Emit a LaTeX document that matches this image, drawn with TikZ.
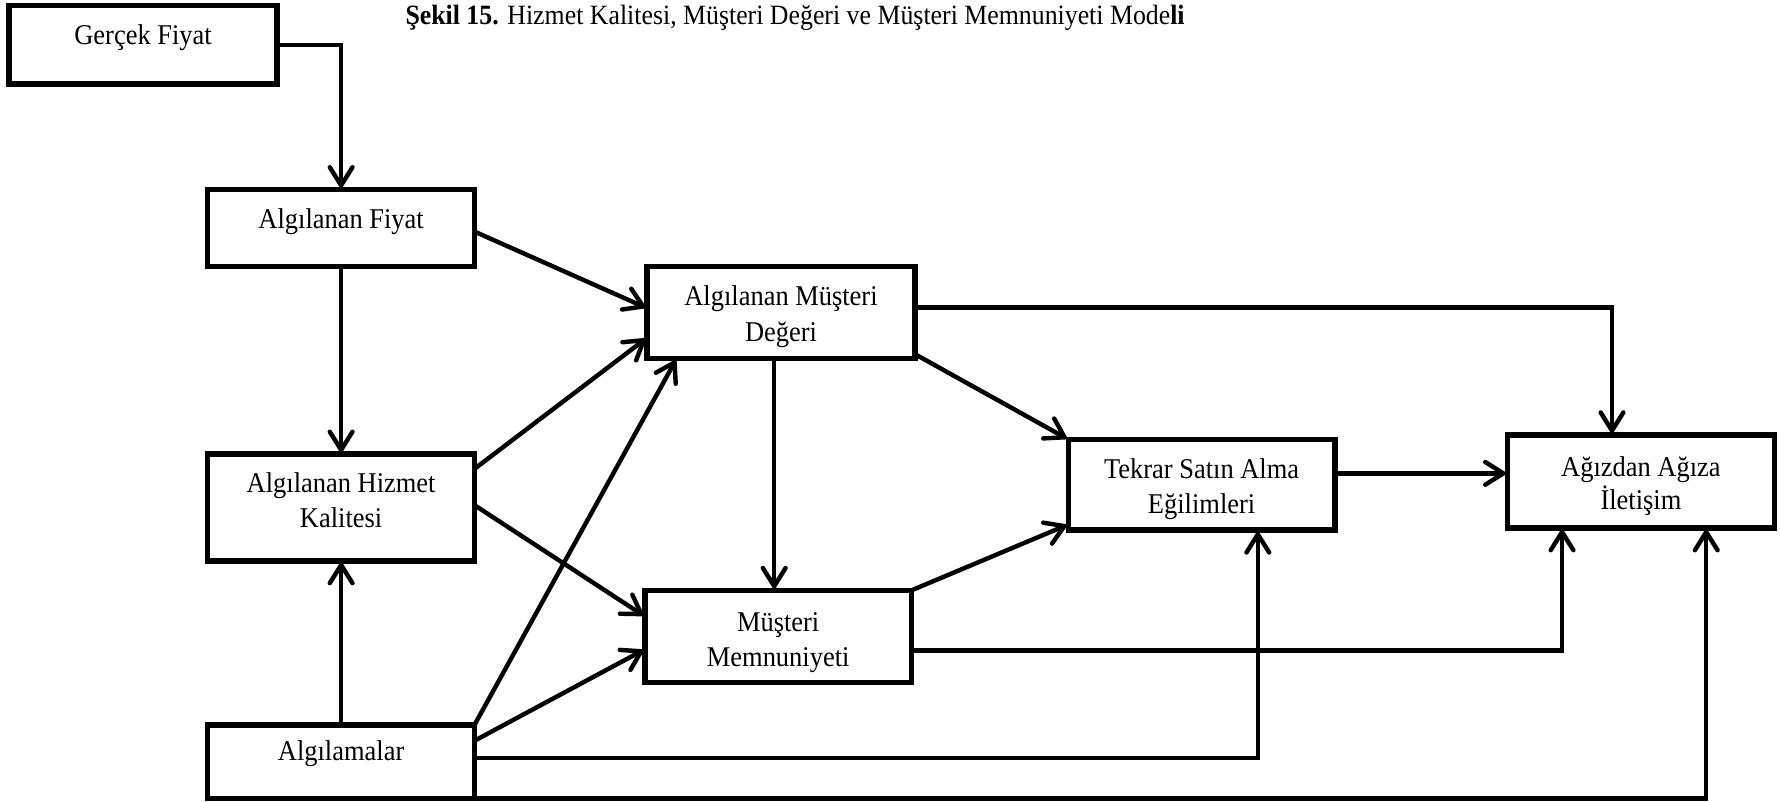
\documentclass[tikz,border=0pt]{standalone}
\usepackage{fontspec}
\setmainfont[FakeStretch=0.925]{Liberation Serif}
\usetikzlibrary{arrows.meta,calc}

\tikzset{
  box/.style={draw, line width=4.8pt, rectangle, inner sep=0pt, outer sep=0pt},
  txt/.style={inner sep=0pt, anchor=base, font=\fontsize{25.2}{31}\selectfont},
  arr/.style={line width=3.9pt, line join=miter,
              -{Straight Barb[length=16pt,width=20pt,line cap=round]}}
}

\begin{document}
\begin{tikzpicture}[x=1pt, y=-1pt]
\useasboundingbox (0,0) rectangle (1568,706);

% title
\node[txt, anchor=base west, font=\fontsize{24.6}{31}\selectfont] (title) at (357,22)
  {\textbf{Şekil 15.} Hizmet Kalitesi, Müşteri Değeri ve Müşteri Memnuniyeti Mode\textbf{li}};

% boxes
\node[box, minimum width=236pt, minimum height=69pt] (gf)  at (126,39.5) {};
\node[box, minimum width=235pt, minimum height=68pt] (af)  at (300.5,201) {};
\node[box, minimum width=235pt, minimum height=94pt] (ahk) at (300.5,447) {};
\node[box, minimum width=235pt, minimum height=65pt] (alg) at (300.5,671) {};
\node[box, minimum width=236pt, minimum height=81pt] (amd) at (688,275.5) {};
\node[box, minimum width=235pt, minimum height=81pt] (mm)  at (685.5,560.5) {};
\node[box, minimum width=235pt, minimum height=80pt] (tsa) at (1058.5,427) {};
\node[box, minimum width=235pt, minimum height=82pt] (aa)  at (1445.5,424) {};

% box texts (one node per line, placed on its baseline)
\node[txt] (gf1)  at ($(gf.center)+(0,0)$)    {Gerçek Fiyat};
\node[txt] (af1)  at ($(af.center)+(0,0.5)$)  {Algılanan Fiyat};
\node[txt] (ahk1) at ($(ahk.center)+(0,-13.5)$) {Algılanan Hizmet};
\node[txt] (ahk2) at ($(ahk.center)+(0,17.5)$)  {Kalitesi};
\node[txt] (alg1) at ($(alg.center)+(0,-1)$)  {Algılamalar};
\node[txt] (amd1) at ($(amd.center)+(0,-6)$)  {Algılanan Müşteri};
\node[txt] (amd2) at ($(amd.center)+(0,25)$)  {Değeri};
\node[txt] (mm1)  at ($(mm.center)+(0,-4)$)   {Müşteri};
\node[txt] (mm2)  at ($(mm.center)+(0,27)$)   {Memnuniyeti};
\node[txt] (tsa1) at ($(tsa.center)+(0,-5.5)$) {Tekrar Satın Alma};
\node[txt] (tsa2) at ($(tsa.center)+(0,25.5)$) {Eğilimleri};
\node[txt] (aa1)  at ($(aa.center)+(0,-4.5)$) {Ağızdan Ağıza};
\node[txt] (aa2)  at ($(aa.center)+(0,25)$)   {İletişim};

% connectors
\draw[arr] (gf.east) -| (af.north);
\draw[arr] (af.south) -- (ahk.north);
\draw[arr] (alg.north) -- (ahk.south);

\draw[arr] ($(af.east)+(0,3)$) -- ($(amd.west)+(0,-4)$);
\draw[arr] ($(ahk.north east)+(0,13)$) -- ($(amd.west)+(0,22)$);
\draw[arr] ($(ahk.east)+(0,-2)$) -- ($(mm.west)+(0,-17.5)$);

\draw[arr] (alg.north east) -- ($(amd.south west)+(26,0)$);
\draw[arr] ($(alg.north east)+(0,14)$) -- ($(mm.west)+(0,11.5)$);

\coordinate (a1) at ($(alg.east)+(0,-3.5)$);
\coordinate (t1) at ($(tsa.south)+(49.5,0)$);
\draw[arr] (a1) -| (t1);

\coordinate (a2) at (alg.south east);
\coordinate (t2) at ($(aa.south)+(57.5,0)$);
\draw[arr] (a2) -| (t2);

\draw[arr] ($(amd.south)+(-6,0)$) -- ($(mm.north)+(-3.5,0)$);

\coordinate (a3) at ($(amd.east)+(0,-4.5)$);
\coordinate (t3) at ($(aa.north)+(-25.5,0)$);
\draw[arr] (a3) -| (t3);

\draw[arr] ($(amd.south east)+(0,-4)$) -- (tsa.north west);
\draw[arr] (mm.north east) -- ($(tsa.south west)+(0,-5)$);

\coordinate (a4) at ($(mm.east)+(0,12.5)$);
\coordinate (t4) at ($(aa.south)+(-69.5,0)$);
\draw[arr] (a4) -| (t4);

\coordinate (a5) at ($(tsa.east)+(0,-10)$);
\draw[arr] (a5) -- (a5 -| aa.west);
\end{tikzpicture}
\end{document}
